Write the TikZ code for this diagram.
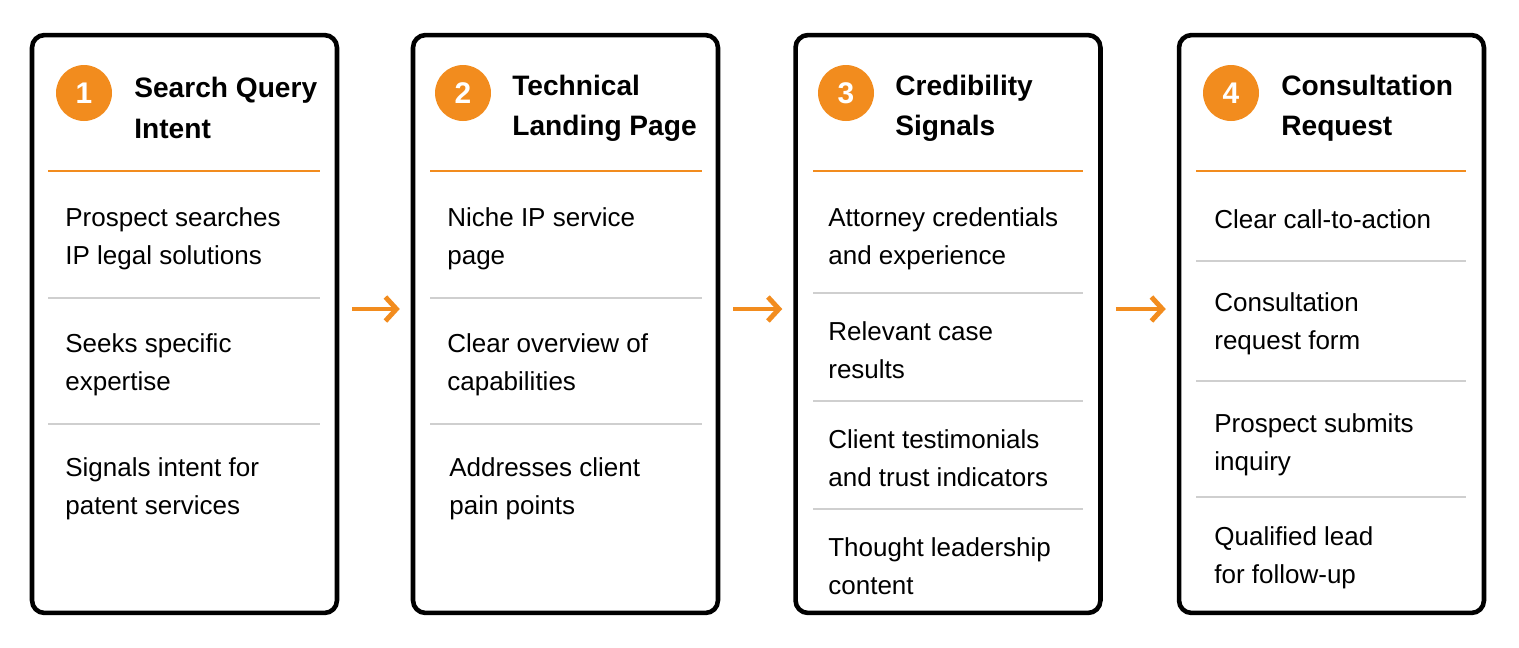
\documentclass[tikz,border=0pt]{standalone}
\usepackage{fontspec}
\setmainfont{Liberation Sans}
\usetikzlibrary{arrows.meta, positioning, calc}
\definecolor{accent}{HTML}{F28C1E}
\definecolor{rule}{HTML}{CFCFCF}

\begin{document}
\begin{tikzpicture}[
  x=0.02cm, y=-0.02cm,
  card/.style = {draw, line width=2.6pt, rounded corners=0.25cm, minimum width=6.1cm, minimum height=11.56cm, fill=white},
  badge/.style = {circle, fill=accent, minimum size=1.12cm, inner sep=0pt, text=white, font=\fontsize{17}{20}\selectfont\bfseries},
  heading/.style = {anchor=west, align=left, inner sep=0pt, font=\fontsize{16}{23}\selectfont\bfseries},
  item/.style = {anchor=west, align=left, inner sep=0pt, font=\fontsize{14.8}{21.6}\selectfont},
  topline/.style = {accent, line width=1.6pt},
  sep/.style = {rule, line width=0.9pt},
  arrow/.style = {accent, line width=2.8pt, -{Straight Barb[length=2.2mm, width=4.8mm]}, shorten <=13*0.02cm, shorten >=11*0.02cm}
]
  \fill[white] (0,0) rectangle (1519,647);

  % Cards
  \node[card] (box1) at (184.5,324) {};
  \node[card] (box2) at (565.5,324) {};
  \node[card] (box3) at (948,324) {};
  \node[card] (box4) at (1331.5,324) {};

  % Headings
  \node[badge] (num1) at (84,93) {1};
  \node[heading] (head1) at (134,108) {Search Query\\Intent};
  \node[badge] (num2) at (463,93) {2};
  \node[heading] (head2) at (512,108) {Technical\\Landing Page};
  \node[badge] (num3) at (846,93) {3};
  \node[heading] (head3) at (895,108) {Credibility\\Signals};
  \node[badge] (num4) at (1231,93) {4};
  \node[heading] (head4) at (1281,108) {Consultation\\Request};

  \foreach \a/\b in {48/320, 430/702, 813/1083, 1196/1466}
    \draw[topline] (\a,171) -- (\b,171);

  % Card 1
  \node[item] (c1a) at (65,239) {Prospect searches\\IP legal solutions};
  \draw[sep] (48,298) -- (320,298);
  \node[item] (c1b) at (65,365) {Seeks specific\\expertise};
  \draw[sep] (48,424) -- (320,424);
  \node[item] (c1c) at (65,489) {Signals intent for\\patent services};

  % Card 2
  \node[item] (c2a) at (447,239) {Niche IP service\\page};
  \draw[sep] (430,298) -- (702,298);
  \node[item] (c2b) at (447,365) {Clear overview of\\capabilities};
  \draw[sep] (430,424) -- (702,424);
  \node[item] (c2c) at (449,489) {Addresses client\\pain points};

  % Card 3
  \node[item] (c3a) at (828,239) {Attorney credentials\\and experience};
  \draw[sep] (813,293) -- (1083,293);
  \node[item] (c3b) at (828,350) {Relevant case\\results};
  \draw[sep] (813,401) -- (1083,401);
  \node[item] (c3c) at (828,458) {Client testimonials\\and trust indicators};
  \draw[sep] (813,509) -- (1083,509);
  \node[item] (c3d) at (828,566) {Thought leadership\\content};

  % Card 4
  \node[item] (c4a) at (1214,219) {Clear call-to-action};
  \draw[sep] (1196,261) -- (1466,261);
  \node[item] (c4b) at (1214,324) {Consultation\\request form};
  \draw[sep] (1196,381) -- (1466,381);
  \node[item] (c4c) at (1214,445) {Prospect submits\\inquiry};
  \draw[sep] (1196,497) -- (1466,497);
  \node[item] (c4d) at (1214,558) {Qualified lead\\for follow-up};

  % Flow
  \coordinate (flow) at (0,309);
  \draw[arrow] (box1.east |- flow) -- (box2.west |- flow);
  \draw[arrow] (box2.east |- flow) -- (box3.west |- flow);
  \draw[arrow] (box3.east |- flow) -- (box4.west |- flow);
\end{tikzpicture}
\end{document}
